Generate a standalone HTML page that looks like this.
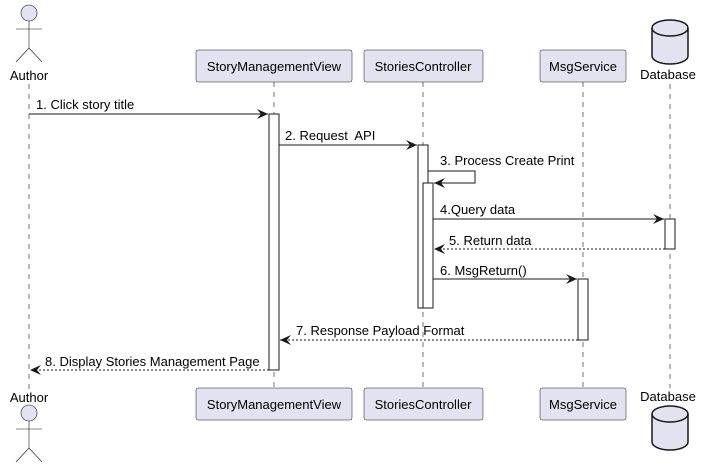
<!DOCTYPE html>
<html><head><meta charset="utf-8"><style>
html,body{margin:0;padding:0;background:#fff;width:704px;height:469px;overflow:hidden}
text{font-family:"Liberation Sans",sans-serif;font-size:13px;fill:#000}
</style></head><body>
<svg width="704" height="469" viewBox="0 0 704 469" xmlns="http://www.w3.org/2000/svg">
<defs>
<marker id="a" markerWidth="12" markerHeight="10" refX="11" refY="5" orient="auto" markerUnits="userSpaceOnUse">
<path d="M0,0 L11,5 L0,10 L4,5 Z" fill="#181818"/></marker>
</defs>
<g stroke="#181818" stroke-width="0.6" stroke-dasharray="5,5">
<line x1="29" y1="84" x2="29" y2="390"/>
<line x1="274" y1="82" x2="274" y2="388"/>
<line x1="423" y1="82" x2="423" y2="388"/>
<line x1="583" y1="82" x2="583" y2="388"/>
<line x1="670" y1="84" x2="670" y2="388"/>
</g>
<g fill="#E2E2F0" stroke="#181818" stroke-width="0.6">
<circle cx="29" cy="13" r="8"/>
<path d="M29,21 V48 M16,29 H42 M29,48 L16,62 M29,48 L42,62" fill="none"/>
<circle cx="29" cy="413" r="8"/>
<path d="M29,421 V448 M16,429 H42 M29,448 L16,462 M29,448 L42,462" fill="none"/>
</g>
<text x="29" y="80" text-anchor="middle" font-size="14">Author</text>
<text x="29" y="402" text-anchor="middle" font-size="14">Author</text>
<g fill="#E2E2F0" stroke="#181818" stroke-width="0.5">
<rect x="196" y="50" width="156" height="32" rx="2"/>
<rect x="364" y="50" width="119" height="32" rx="2"/>
<rect x="540" y="50" width="86" height="32" rx="2"/>
<rect x="196" y="388" width="156" height="32" rx="2"/>
<rect x="364" y="388" width="119" height="32" rx="2"/>
<rect x="540" y="388" width="86" height="32" rx="2"/>
</g>
<g font-size="14" text-anchor="middle">
<text x="274" y="71">StoryManagementView</text>
<text x="423" y="71">StoriesController</text>
<text x="583" y="71">MsgService</text>
<text x="274" y="409">StoryManagementView</text>
<text x="423" y="409">StoriesController</text>
<text x="583" y="409">MsgService</text>
</g>
<g fill="#E2E2F0" stroke="#181818" stroke-width="1.5">
<path d="M652,28 A18,8 0 0 1 688,28 V56 A18,8 0 0 1 652,56 Z"/>
<path d="M652,28 A18,8 0 0 0 688,28" fill="none"/>
<path d="M652,414 A18,8 0 0 1 688,414 V442 A18,8 0 0 1 652,442 Z"/>
<path d="M652,414 A18,8 0 0 0 688,414" fill="none"/>
</g>
<text x="668" y="79" text-anchor="middle" font-size="14">Database</text>
<text x="668" y="401" text-anchor="middle" font-size="14">Database</text>
<g fill="#fff" stroke="#181818" stroke-width="1">
<rect x="269" y="114" width="10" height="256"/>
<rect x="418" y="145" width="10" height="163"/>
<rect x="423" y="183" width="10" height="125"/>
<rect x="665" y="219" width="10" height="30"/>
<rect x="578" y="279" width="10" height="61"/>
</g>
<g stroke="#181818" stroke-width="1" fill="none">
<line x1="29" y1="114" x2="268" y2="114" marker-end="url(#a)"/>
<line x1="279" y1="145" x2="417" y2="145" marker-end="url(#a)"/>
<polyline points="428,171 475,171 475,183 434,183" marker-end="url(#a)"/>
<line x1="433" y1="219" x2="664" y2="219" marker-end="url(#a)"/>
<line x1="665" y1="249" x2="434" y2="249" stroke-dasharray="2,2" marker-end="url(#a)"/>
<line x1="433" y1="279" x2="577" y2="279" marker-end="url(#a)"/>
<line x1="578" y1="340" x2="280" y2="340" stroke-dasharray="2,2" marker-end="url(#a)"/>
<line x1="269" y1="370" x2="30" y2="370" stroke-dasharray="2,2" marker-end="url(#a)"/>
</g>
<g font-size="13">
<text x="36" y="109">1. Click story title</text>
<text x="285" y="140">2. Request&#160; API</text>
<text x="440" y="165">3. Process Create Print</text>
<text x="440" y="214">4.Query data</text>
<text x="449" y="245">5. Return data</text>
<text x="440" y="275">6. MsgReturn()</text>
<text x="296" y="335">7. Response Payload Format</text>
<text x="45" y="366">8. Display Stories Management Page</text>
</g>
</svg>
</body></html>
